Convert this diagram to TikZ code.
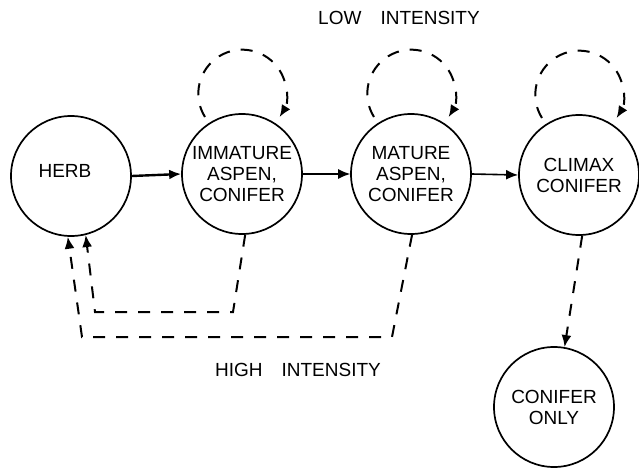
\documentclass[tikz,border=0pt]{standalone}
\usepackage{fontspec}
\setmainfont{Liberation Sans}
\usetikzlibrary{arrows.meta}

\begin{document}
\begin{tikzpicture}[
		x=0.5pt, y=0.5pt,
		font=\fontsize{9.5}{10.5}\selectfont,
		stage/.style={circle, draw, line width=0.85pt, minimum size=60pt, inner sep=0pt, align=center},
		succline/.style={-{Latex[length=6pt,width=5pt]}, line width=1pt},
		fireline/.style={-{Latex[length=6pt,width=5pt]}, line width=1pt, dash pattern=on 6pt off 5.5pt}
	]
	\useasboundingbox (0,0) rectangle (639,-471);
	% stages
	\node[stage] (herb) at (71,-176) {\raisebox{5pt}{HERB}\hspace{6pt}};
	\node[stage] (immature) at (242,-174) {IMMATURE\\ASPEN,\\CONIFER};
	\node[stage] (mature) at (411,-174) {MATURE\\ASPEN,\\CONIFER};
	\node[stage] (climax) at (579,-175) {CLIMAX\\CONIFER};
	\node[stage] (conifer) at (554,-407) {CONIFER\\ONLY};
	% labels
	\node (lowlbl) at (399,-18) {LOW\quad INTENSITY};
	\node (highlbl) at (298,-370) {HIGH\quad INTENSITY};
	% succession
	\draw[succline, line width=1.2pt] (herb.east) -- (immature.west);
	\draw[succline, line width=0.6pt] (immature.east) -- (mature.west);
	\draw[succline, line width=0.8pt] (mature.east) -- (climax.west);
	% low intensity fire
	\foreach \n in {immature, mature, climax}
		\draw[fireline] (\n.center) ++(-37,57) arc[start angle=212, end angle=-32, radius=22pt];
	% high intensity fire
	\draw[fireline] (immature.-87) -- (233,-312) -- (95,-312) -- (herb.-76);
	\draw[fireline] (mature.-89) -- (392,-337) -- (82,-337) -- (herb.-93);
	\draw[fireline] (climax.-87) -- (conifer.80);
\end{tikzpicture}
\end{document}
